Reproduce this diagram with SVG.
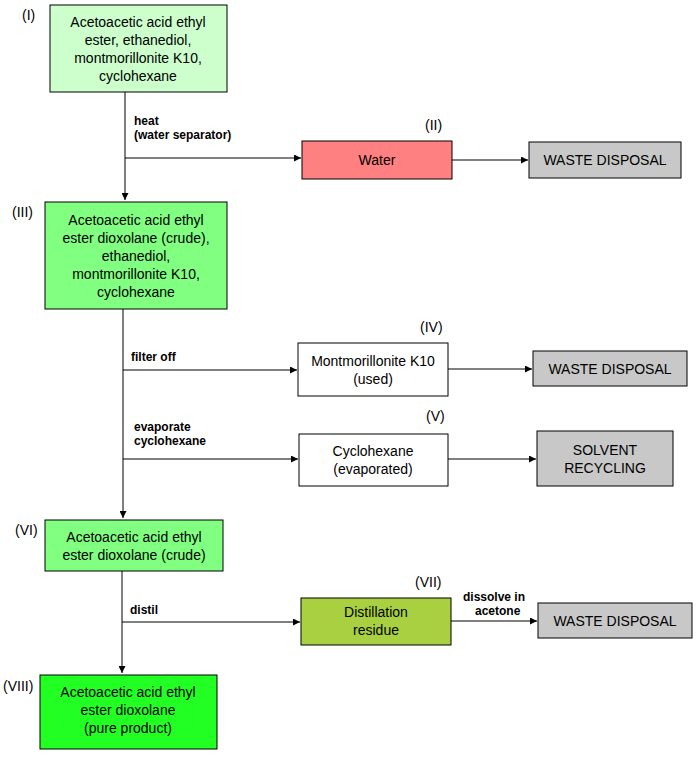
<svg xmlns="http://www.w3.org/2000/svg" width="700" height="770" viewBox="0 0 700 770">
<style>
.b{stroke:#000;stroke-width:1}
.t{font-family:"Liberation Sans",Arial,sans-serif;font-size:14px;text-anchor:middle;fill:#000}
.n{font-family:"Liberation Sans",Arial,sans-serif;font-size:14px;fill:#000}
.l{font-family:"Liberation Sans",Arial,sans-serif;font-size:12px;font-weight:bold;fill:#000}
.c{stroke:#000;stroke-width:1;fill:none;marker-end:url(#a)}
</style>
<defs><marker id="a" viewBox="0 0 10 10" refX="10" refY="5" markerWidth="10" markerHeight="7" markerUnits="userSpaceOnUse" orient="auto"><path d="M0,0 L10,5 L0,10 z" fill="#000"/></marker></defs>
<rect width="700" height="770" fill="#fff"/>
<g id="connectors">
<path class="c" d="M125,92 V200"/>
<path class="c" d="M125,158 H301"/>
<path class="c" d="M452,160 H528"/>
<path class="c" d="M123,309 V518"/>
<path class="c" d="M123,370 H297"/>
<path class="c" d="M448,369 H532"/>
<path class="c" d="M123,459 H298"/>
<path class="c" d="M448,459 H536"/>
<path class="c" d="M122,571 V673"/>
<path class="c" d="M122,622 H300"/>
<path class="c" d="M451,621 H537"/>
<text class="l" x="134" y="125">heat</text>
<text class="l" x="134" y="139">(water separator)</text>
<text class="l" x="131" y="361">filter off</text>
<text class="l" x="134" y="431">evaporate</text>
<text class="l" x="134" y="445">cyclohexane</text>
<text class="l" x="130" y="614">distil</text>
<text class="l" x="463" y="601">dissolve in</text>
<text class="l" x="475" y="615">acetone</text>
</g>
<g id="n1"><rect class="b" x="50" y="5" width="177" height="87" fill="#ccffcc"/>
<text class="n" x="22" y="20">(I)</text>
<text class="t" x="138" y="27">Acetoacetic acid ethyl</text><text class="t" x="138" y="45">ester, ethanediol,</text><text class="t" x="138" y="63">montmorillonite K10,</text><text class="t" x="138" y="81">cyclohexane</text></g>
<g id="n2"><rect class="b" x="302" y="141" width="150" height="38" fill="#ff8080"/>
<text class="n" x="425" y="130">(II)</text><text class="t" x="377" y="165">Water</text></g>
<g id="w1"><rect class="b" x="529" y="142" width="152" height="36" fill="#c8c8c8"/><text class="t" x="605" y="165">WASTE DISPOSAL</text></g>
<g id="n3"><rect class="b" x="45" y="202" width="182" height="107" fill="#80ff80"/>
<text class="n" x="12" y="217">(III)</text>
<text class="t" x="136" y="225">Acetoacetic acid ethyl</text><text class="t" x="136" y="243">ester dioxolane (crude),</text><text class="t" x="136" y="261">ethanediol,</text><text class="t" x="136" y="279">montmorillonite K10,</text><text class="t" x="136" y="297">cyclohexane</text></g>
<g id="n4"><rect class="b" x="298" y="343" width="150" height="53" fill="#fff"/>
<text class="n" x="420" y="332">(IV)</text><text class="t" x="373" y="366">Montmorillonite K10</text><text class="t" x="373" y="384">(used)</text></g>
<g id="w2"><rect class="b" x="533" y="351" width="154" height="35" fill="#c8c8c8"/><text class="t" x="610" y="374">WASTE DISPOSAL</text></g>
<g id="n5"><rect class="b" x="299" y="434" width="149" height="52" fill="#fff"/>
<text class="n" x="426" y="421">(V)</text><text class="t" x="373" y="456">Cyclohexane</text><text class="t" x="373" y="474">(evaporated)</text></g>
<g id="s1"><rect class="b" x="537" y="431" width="136" height="55" fill="#c8c8c8"/><text class="t" x="605" y="455">SOLVENT</text><text class="t" x="605" y="473">RECYCLING</text></g>
<g id="n6"><rect class="b" x="45" y="520" width="178" height="51" fill="#80ff80"/>
<text class="n" x="15" y="535">(VI)</text><text class="t" x="134" y="542">Acetoacetic acid ethyl</text><text class="t" x="134" y="560">ester dioxolane (crude)</text></g>
<g id="n7"><rect class="b" x="301" y="598" width="150" height="47" fill="#a8d040"/>
<text class="n" x="415" y="587">(VII)</text><text class="t" x="376" y="617">Distillation</text><text class="t" x="376" y="635">residue</text></g>
<g id="w3"><rect class="b" x="538" y="603" width="154" height="35" fill="#c8c8c8"/><text class="t" x="615" y="626">WASTE DISPOSAL</text></g>
<g id="n8"><rect class="b" x="40" y="675" width="177" height="74" fill="#22ff22"/>
<text class="n" x="3" y="691">(VIII)</text><text class="t" x="128" y="697">Acetoacetic acid ethyl</text><text class="t" x="128" y="715">ester dioxolane</text><text class="t" x="128" y="733">(pure product)</text></g>
</svg>
